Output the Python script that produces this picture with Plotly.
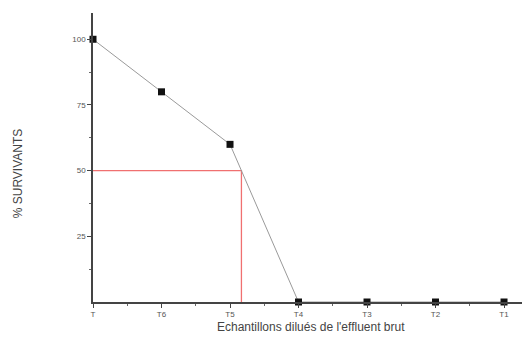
import plotly.graph_objects as go

categories = ["T", "T6", "T5", "T4", "T3", "T2", "T1"]
survivants = [100, 80, 60, 0, 0, 0, 0]
y_ticks = [25, 50, 75, 100]
cl50_level = 50

xpos = list(range(len(categories)))
# x where survival crosses 50 (between T5 and T4), derived from the data
i = 2
x50 = xpos[i] + (survivants[i] - cl50_level) / (survivants[i] - survivants[i + 1])

fig = go.Figure()
fig.add_trace(go.Scatter(x=[0, x50, x50], y=[cl50_level, cl50_level, 0], mode="lines",
                         line=dict(color="#f07070", width=1.3), hoverinfo="skip", cliponaxis=False))
fig.add_trace(go.Scatter(x=xpos, y=survivants, mode="lines+markers",
                         line=dict(color="#9a9a9a", width=1),
                         marker=dict(symbol="square", size=7, color="#111111"),
                         cliponaxis=False))

fig.update_layout(
    width=522, height=334,
    margin=dict(l=85, r=2, t=5, b=40, autoexpand=False),
    paper_bgcolor="white", plot_bgcolor="white",
    showlegend=False,
    font=dict(family="Liberation Sans, Arial, sans-serif", color="#555555"),
    annotations=[
        dict(text="Echantillons dilués de l'effluent brut", xref="paper", yref="paper",
             x=0.5, y=-0.087, yanchor="middle", xanchor="center", showarrow=False,
             font=dict(size=12, color="#444444")),
        dict(text="% SURVIVANTS", xref="paper", yref="paper",
             x=-0.172, y=0.446, xanchor="center", yanchor="middle", textangle=-90,
             showarrow=False, font=dict(size=12, color="#444444")),
    ],
)
fig.update_xaxes(
    range=[0, 6.35], tickvals=xpos, ticktext=categories, automargin=False,
    showgrid=False, zeroline=False, showline=True, linecolor="#444444", linewidth=1.5,
    ticks="outside", ticklen=4, tickcolor="#444444", tickfont=dict(size=8),
    minor=dict(tickvals=[0.5 + k for k in range(6)], ticks="outside", ticklen=2, tickcolor="#666666"),
)
fig.update_yaxes(
    range=[0, 110], tickvals=y_ticks, automargin=False,
    showgrid=False, zeroline=False, showline=True, linecolor="#444444", linewidth=1.5,
    ticks="outside", ticklen=4, tickcolor="#444444", tickfont=dict(size=8),
    minor=dict(tickvals=[12.5, 37.5, 62.5, 87.5], ticks="outside", ticklen=2, tickcolor="#666666"),
)
fig.write_html("out.html")
